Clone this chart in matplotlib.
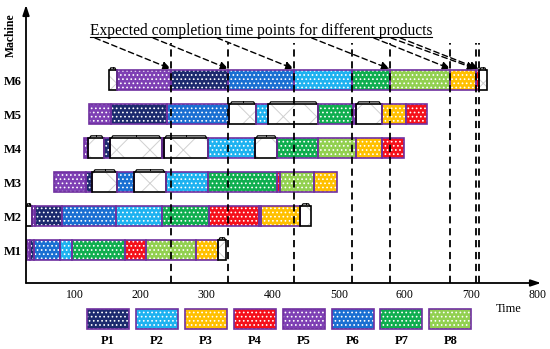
import matplotlib.pyplot as plt
from matplotlib.patches import Rectangle

plt.rcParams['font.family'] = ['Liberation Serif', 'DejaVu Serif']
plt.rcParams['hatch.linewidth'] = 0.7

products = ["P1", "P2", "P3", "P4", "P5", "P6", "P7", "P8"]
colors = {"P1": "#1c2a6e", "P2": "#1eb2f0", "P3": "#ffc000", "P4": "#f5101a",
          "P5": "#7e40b4", "P6": "#1a6fd2", "P7": "#0fae4f", "P8": "#92d050"}

# (product, start, end) per machine, "idle" = setup / idle block
m1 = [("P5", 28, 32), ("P1", 32, 38), ("P6", 38, 78), ("P2", 78, 96), ("P7", 96, 176),
      ("P4", 176, 208), ("P8", 208, 284), ("P3", 284, 317), ("idle", 317, 330)]
m2 = [("idle", 27, 35), ("P5", 35, 40), ("P1", 40, 81), ("P6", 81, 163), ("P2", 163, 232),
      ("P7", 232, 303), ("P4", 303, 379), ("P8", 379, 382), ("P3", 382, 442), ("idle", 442, 458)]
m3 = [("P5", 69, 118), ("P1", 118, 127), ("idle", 127, 164), ("P6", 164, 190), ("idle", 190, 238),
      ("P2", 238, 302), ("P7", 302, 406), ("P4", 406, 411), ("P8", 411, 463), ("P3", 463, 497)]
m4 = [("P5", 114, 121), ("idle", 121, 145), ("P1", 145, 154), ("idle", 154, 232), ("P5", 232, 235),
      ("idle", 235, 302), ("P2", 302, 373), ("idle", 373, 407), ("P7", 407, 469), ("P8", 469, 526),
      ("P3", 526, 566), ("P4", 566, 599)]
m5 = [("P5", 122, 155), ("P1", 155, 240), ("P6", 240, 334), ("idle", 334, 375), ("P2", 375, 393),
      ("idle", 393, 469), ("P7", 469, 522), ("P5", 522, 526), ("idle", 526, 565), ("P3", 565, 601),
      ("P4", 601, 633)]
m6 = [("idle", 152, 164), ("P5", 164, 246), ("P1", 246, 333), ("P6", 333, 432), ("P2", 432, 520),
      ("P7", 520, 577), ("P8", 577, 669), ("P3", 669, 707), ("P4", 707, 712), ("idle", 712, 724)]
machines = [m1, m2, m3, m4, m5, m6]
machine_names = ["M1", "M2", "M3", "M4", "M5", "M6"]

completion = [246, 333, 432, 520, 577, 669, 707, 712]
arrow_targets = [246, 333, 432, 577, 669, 707, 712]
arrow_starts = [131, 219, 316, 459, 553, 579, 593]

fig = plt.figure(figsize=(5.5, 3.49), dpi=100)
ax = fig.add_axes([26 / 550, 66 / 349, 515 / 550, 278 / 349])
ax.set_xlim(26.6, 806)
ax.set_ylim(0.03, 8.21)

h = 0.6
for row, jobs in enumerate(machines, start=1):
    for p, s, e in jobs:
        if p == "idle":
            ax.add_patch(Rectangle((s, row - h / 2), e - s, h, facecolor="white",
                                   edgecolor="#d0d0d0", hatch="x", lw=0, zorder=2))
            ax.add_patch(Rectangle((s, row - h / 2), e - s, h, facecolor="none",
                                   edgecolor="black", lw=1.2, zorder=3))
            d = min(2.0, (e - s) * 0.12)
            top = row + h / 2
            ax.plot([s + d, s + 2 * d, e - 2 * d, e - d], [top, top + 0.06, top + 0.06, top],
                    color="black", lw=0.9, zorder=3)
            ax.plot([(s + e) / 2] * 2, [top + 0.06, top + 0.09], color="black", lw=0.7, zorder=3)
        else:
            ax.add_patch(Rectangle((s, row - h / 2), e - s, h, facecolor=colors[p],
                                   edgecolor="white", hatch="....", lw=0, zorder=2))
            ax.add_patch(Rectangle((s, row - h / 2), e - s, h, facecolor="none",
                                   edgecolor="#7030a0", lw=1.2, zorder=3))

# completion time lines
for t in completion:
    ax.plot([t, t], [0.03, 7.09], color="black", lw=1.3, ls=(0, (4, 2.6)), zorder=4)

# annotation text and arrows
ax.text(382, 7.32, "Expected completion time points for different products",
        ha="center", va="baseline", fontsize=11.2)
ax.plot([123.5, 641], [7.255, 7.255], color="black", lw=0.8)
for s, t in zip(arrow_starts, arrow_targets):
    ax.annotate("", xy=(t, 6.33), xytext=(s, 7.24),
                arrowprops=dict(arrowstyle="-|>,head_length=0.5,head_width=0.22",
                                color="black", lw=1.0, ls=(0, (4, 2.5)),
                                shrinkA=0, shrinkB=0), zorder=5)

for sp in ax.spines.values():
    sp.set_visible(False)
ax.annotate("", xy=(1, 0), xytext=(0, 0), xycoords="axes fraction",
            arrowprops=dict(arrowstyle="-|>,head_length=0.6,head_width=0.2",
                            color="black", lw=1.3, shrinkA=0, shrinkB=0))
ax.annotate("", xy=(0, 1), xytext=(0, 0), xycoords="axes fraction",
            arrowprops=dict(arrowstyle="-|>,head_length=0.6,head_width=0.2",
                            color="black", lw=1.3, shrinkA=0, shrinkB=0))

ax.set_xticks(range(100, 801, 100))
ax.set_xticklabels([str(v) for v in range(100, 801, 100)], fontsize=8.5)
ax.set_yticks(range(1, 7))
ax.set_yticklabels(machine_names, fontsize=9, fontweight="bold")
ax.tick_params(axis="both", length=0)
ax.tick_params(axis="x", pad=4)
ax.tick_params(axis="y", pad=3)

fig.text(11 / 550, 1 - 35 / 349, "Machine", rotation=90, ha="center", va="center",
         fontsize=8.5, fontweight="bold")
fig.text(509 / 550, 1 - 309 / 349, "Time", ha="center", va="center", fontsize=9)

# legend
lg = fig.add_axes([0, 0, 1, 70 / 349])
lg.set_xlim(0, 550)
lg.set_ylim(349, 279)
lg.axis("off")
for i, p in enumerate(products):
    x0 = 87 + i * 48.9
    lg.add_patch(Rectangle((x0, 309), 42, 20, facecolor=colors[p], edgecolor="white",
                           hatch="....", lw=0))
    lg.add_patch(Rectangle((x0, 309), 42, 20, facecolor="none", edgecolor="#7030a0", lw=1.2))
    lg.text(x0 + 21, 341, p, ha="center", va="center", fontsize=9, fontweight="bold")

fig.savefig("out.png", dpi=100)
